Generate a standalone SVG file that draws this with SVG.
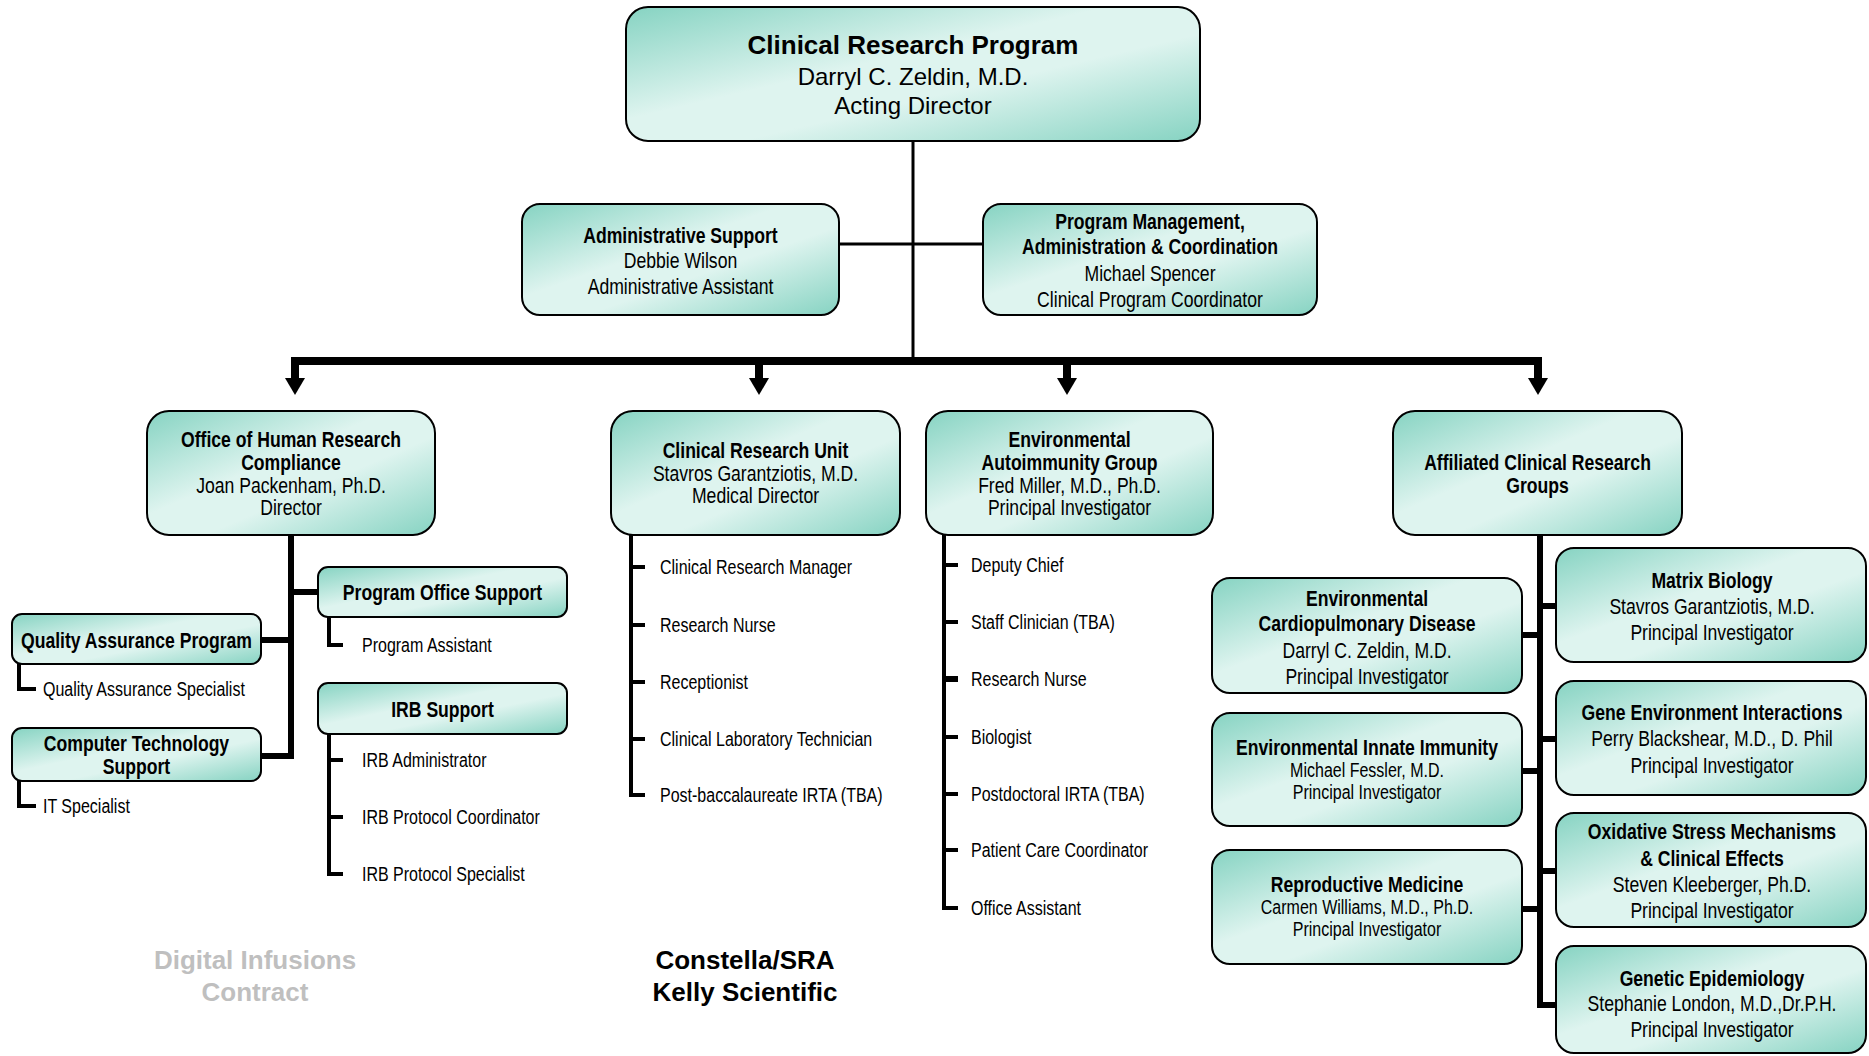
<svg xmlns="http://www.w3.org/2000/svg" width="1869" height="1056" viewBox="0 0 1869 1056">
<defs>
<linearGradient id="teal" x1="0" y1="0" x2="1" y2="1">
<stop offset="0" stop-color="#86d3c2"/>
<stop offset="0.42" stop-color="#def4ef"/>
<stop offset="0.6" stop-color="#def4ef"/>
<stop offset="1" stop-color="#86d3c2"/>
</linearGradient>
<marker id="arrow" markerUnits="userSpaceOnUse" markerWidth="17" markerHeight="20" viewBox="0 0 17 20" refX="0" refY="10" orient="auto">
<path d="M0,0 L17,10 L0,20 z" fill="#000"/>
</marker>
</defs>
<style>
.box{fill:url(#teal);stroke:#000;stroke-width:2}
text{font-family:"Liberation Sans",Arial,sans-serif;fill:#000}
.b{font-weight:bold}
.n{font-size:22px}
.s{font-size:20px}
.li{font-size:20px}
.top{font-size:24px}
.tt{font-size:26px;font-weight:bold}
.foot{font-size:26px;font-weight:bold;text-anchor:middle}
.grey{fill:#bfbfbf}
.c{text-anchor:middle}
.thin{fill:none;stroke:#000;stroke-width:3}
.mid{fill:none;stroke:#000;stroke-width:4}
.thick{fill:none;stroke:#000;stroke-width:6}
.bus{fill:none;stroke:#000;stroke-width:8}
</style>
<rect width="1869" height="1056" fill="#fff"/>

<g id="connectors">
<path class="thin" d="M913,141 V358"/>
<path class="thin" d="M839,244 H983"/>
<path class="bus" d="M291,361 H1542"/>
<path class="bus" d="M295,358 V378" marker-end="url(#arrow)"/>
<path class="bus" d="M759,361 V378" marker-end="url(#arrow)"/>
<path class="bus" d="M1067,361 V378" marker-end="url(#arrow)"/>
<path class="bus" d="M1538,358 V378" marker-end="url(#arrow)"/>
<path class="thick" d="M291,535 V756 H261"/>
<path class="thick" d="M291,592 H318"/>
<path class="thick" d="M261,640 H291"/>
<path class="mid" d="M329,617 V645 H343"/>
<path class="mid" d="M19,664 V689 H36"/>
<path class="mid" d="M19,781 V806 H36"/>
<path class="mid" d="M329,734 V874 H343"/>
<path class="mid" d="M329,760 H343 M329,817 H343"/>
<path class="mid" d="M631,535 V795 H645 M631,567 H645 M631,625 H645 M631,682 H645 M631,739 H645"/>
<path class="mid" d="M944,535 V908 H958 M944,565 H958 M944,622 H958 M944,737 H958 M944,794 H958 M944,850 H958"/>
<path class="thick" d="M944,679 H958"/>
<path class="thick" d="M1540,535 V1005 H1556"/>
<path class="thick" d="M1522,635 H1540 M1522,771 H1540 M1522,909 H1540"/>
<path class="thick" d="M1540,606 H1556 M1540,739 H1556 M1540,871 H1556"/>
</g>

<g id="node-crp">
<rect class="box" x="626" y="7" width="574" height="134" rx="22"/>
<text class="tt c" x="913" y="54">Clinical Research Program</text>
<text class="top c" x="913" y="85">Darryl C. Zeldin, M.D.</text>
<text class="top c" x="913" y="114">Acting Director</text>
</g>

<g id="node-admin">
<rect class="box" x="522" y="204" width="317" height="111" rx="18"/>
<g transform="translate(680.5,0) scale(0.8,1)">
<text class="n b c" x="0" y="243">Administrative Support</text>
<text class="n c" x="0" y="268">Debbie Wilson</text>
<text class="n c" x="0" y="294">Administrative Assistant</text>
</g>
</g>

<g id="node-pmac">
<rect class="box" x="983" y="204" width="334" height="111" rx="18"/>
<g transform="translate(1150,0) scale(0.8,1)">
<text class="n b c" x="0" y="229">Program Management,</text>
<text class="n b c" x="0" y="254">Administration &amp; Coordination</text>
<text class="n c" x="0" y="281">Michael Spencer</text>
<text class="n c" x="0" y="307">Clinical Program Coordinator</text>
</g>
</g>

<g id="node-ohrc">
<rect class="box" x="147" y="411" width="288" height="124" rx="22"/>
<g transform="translate(291,0) scale(0.8,1)">
<text class="n b c" x="0" y="447">Office of Human Research</text>
<text class="n b c" x="0" y="470">Compliance</text>
<text class="n c" x="0" y="493">Joan Packenham, Ph.D.</text>
<text class="n c" x="0" y="515">Director</text>
</g>
</g>

<g id="node-cru">
<rect class="box" x="611" y="411" width="289" height="124" rx="22"/>
<g transform="translate(755.5,0) scale(0.8,1)">
<text class="n b c" x="0" y="458">Clinical Research Unit</text>
<text class="n c" x="0" y="481">Stavros Garantziotis, M.D.</text>
<text class="n c" x="0" y="503">Medical Director</text>
</g>
</g>

<g id="node-eag">
<rect class="box" x="926" y="411" width="287" height="124" rx="22"/>
<g transform="translate(1069.5,0) scale(0.8,1)">
<text class="n b c" x="0" y="447">Environmental</text>
<text class="n b c" x="0" y="470">Autoimmunity Group</text>
<text class="n c" x="0" y="493">Fred Miller, M.D., Ph.D.</text>
<text class="n c" x="0" y="515">Principal Investigator</text>
</g>
</g>

<g id="node-acrg">
<rect class="box" x="1393" y="411" width="289" height="124" rx="22"/>
<g transform="translate(1537.5,0) scale(0.8,1)">
<text class="n b c" x="0" y="470">Affiliated Clinical Research</text>
<text class="n b c" x="0" y="493">Groups</text>
</g>
</g>

<g id="node-pos">
<rect class="box" x="318" y="567" width="249" height="50" rx="10"/>
<g transform="translate(442.5,0) scale(0.8,1)"><text class="n b c" x="0" y="600">Program Office Support</text></g>
</g>
<g id="node-irb">
<rect class="box" x="318" y="683" width="249" height="51" rx="10"/>
<g transform="translate(442.5,0) scale(0.8,1)"><text class="n b c" x="0" y="717">IRB Support</text></g>
</g>
<g id="node-qa">
<rect class="box" x="12" y="614" width="249" height="50" rx="10"/>
<g transform="translate(136.5,0) scale(0.8,1)"><text class="n b c" x="0" y="648">Quality Assurance Program</text></g>
</g>
<g id="node-cts">
<rect class="box" x="12" y="728" width="249" height="53" rx="10"/>
<g transform="translate(136.5,0) scale(0.8,1)">
<text class="n b c" x="0" y="751">Computer Technology</text>
<text class="n b c" x="0" y="774">Support</text>
</g>
</g>

<g id="items-ohrc">
<g transform="translate(362,0) scale(0.8,1)">
<text class="li" x="0" y="652">Program Assistant</text>
<text class="li" x="0" y="767">IRB Administrator</text>
<text class="li" x="0" y="824">IRB Protocol Coordinator</text>
<text class="li" x="0" y="881">IRB Protocol Specialist</text>
</g>
<g transform="translate(43,0) scale(0.8,1)">
<text class="li" x="0" y="696">Quality Assurance Specialist</text>
<text class="li" x="0" y="813">IT Specialist</text>
</g>
</g>

<g id="items-cru">
<g transform="translate(660,0) scale(0.8,1)">
<text class="li" x="0" y="574">Clinical Research Manager</text>
<text class="li" x="0" y="632">Research Nurse</text>
<text class="li" x="0" y="689">Receptionist</text>
<text class="li" x="0" y="746">Clinical Laboratory Technician</text>
<text class="li" x="0" y="802">Post-baccalaureate IRTA (TBA)</text>
</g>
</g>

<g id="items-eag">
<g transform="translate(971,0) scale(0.8,1)">
<text class="li" x="0" y="572">Deputy Chief</text>
<text class="li" x="0" y="629">Staff Clinician (TBA)</text>
<text class="li" x="0" y="686">Research Nurse</text>
<text class="li" x="0" y="744">Biologist</text>
<text class="li" x="0" y="801">Postdoctoral IRTA (TBA)</text>
<text class="li" x="0" y="857">Patient Care Coordinator</text>
<text class="li" x="0" y="915">Office Assistant</text>
</g>
</g>

<g id="node-ecd">
<rect class="box" x="1212" y="578" width="310" height="115" rx="18"/>
<g transform="translate(1367,0) scale(0.8,1)">
<text class="n b c" x="0" y="606">Environmental</text>
<text class="n b c" x="0" y="631">Cardiopulmonary Disease</text>
<text class="n c" x="0" y="658">Darryl C. Zeldin, M.D.</text>
<text class="n c" x="0" y="684">Principal Investigator</text>
</g>
</g>
<g id="node-eii">
<rect class="box" x="1212" y="713" width="310" height="113" rx="18"/>
<g transform="translate(1367,0) scale(0.8,1)">
<text class="n b c" x="0" y="755">Environmental Innate Immunity</text>
<text class="s c" x="0" y="777">Michael Fessler, M.D.</text>
<text class="s c" x="0" y="799">Principal Investigator</text>
</g>
</g>
<g id="node-rm">
<rect class="box" x="1212" y="850" width="310" height="114" rx="18"/>
<g transform="translate(1367,0) scale(0.8,1)">
<text class="n b c" x="0" y="892">Reproductive Medicine</text>
<text class="s c" x="0" y="914">Carmen Williams, M.D., Ph.D.</text>
<text class="s c" x="0" y="936">Principal Investigator</text>
</g>
</g>
<g id="node-mb">
<rect class="box" x="1556" y="548" width="310" height="114" rx="18"/>
<g transform="translate(1712,0) scale(0.8,1)">
<text class="n b c" x="0" y="588">Matrix Biology</text>
<text class="n c" x="0" y="614">Stavros Garantziotis, M.D.</text>
<text class="n c" x="0" y="640">Principal Investigator</text>
</g>
</g>
<g id="node-gei">
<rect class="box" x="1556" y="681" width="310" height="114" rx="18"/>
<g transform="translate(1712,0) scale(0.8,1)">
<text class="n b c" x="0" y="720">Gene Environment Interactions</text>
<text class="n c" x="0" y="746">Perry Blackshear, M.D., D. Phil</text>
<text class="n c" x="0" y="773">Principal Investigator</text>
</g>
</g>
<g id="node-osm">
<rect class="box" x="1556" y="813" width="310" height="114" rx="18"/>
<g transform="translate(1712,0) scale(0.8,1)">
<text class="n b c" x="0" y="839">Oxidative Stress Mechanisms</text>
<text class="n b c" x="0" y="866">&amp; Clinical Effects</text>
<text class="n c" x="0" y="892">Steven Kleeberger, Ph.D.</text>
<text class="n c" x="0" y="918">Principal Investigator</text>
</g>
</g>
<g id="node-ge">
<rect class="box" x="1556" y="946" width="310" height="107" rx="18"/>
<g transform="translate(1712,0) scale(0.8,1)">
<text class="n b c" x="0" y="986">Genetic Epidemiology</text>
<text class="n c" x="0" y="1011">Stephanie London, M.D.,Dr.P.H.</text>
<text class="n c" x="0" y="1037">Principal Investigator</text>
</g>
</g>

<g id="labels">
<text class="foot grey" x="255" y="969">Digital Infusions</text>
<text class="foot grey" x="255" y="1001">Contract</text>
<text class="foot" x="745" y="969">Constella/SRA</text>
<text class="foot" x="745" y="1001">Kelly Scientific</text>
</g>
</svg>
